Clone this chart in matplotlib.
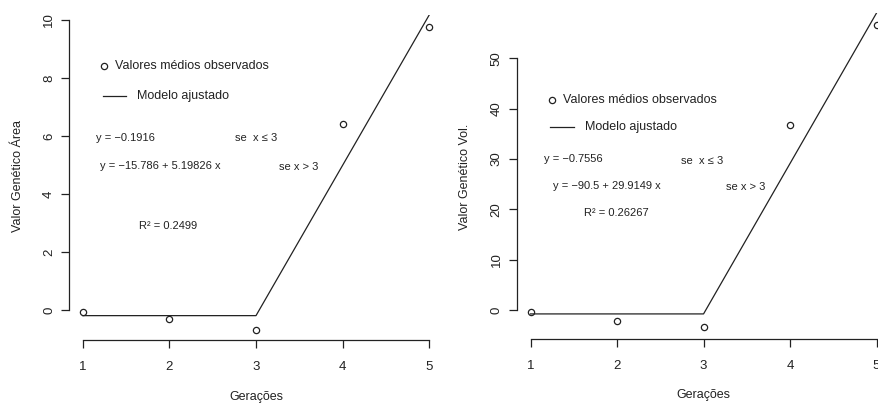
import matplotlib
matplotlib.use("Agg")
import matplotlib.pyplot as plt

plt.rcParams['font.family'] = ['Liberation Sans', 'DejaVu Sans']

# data
geracoes = [1, 2, 3, 4, 5]
area_obs = [-0.07, -0.3, -0.67, 6.4, 9.77]
vol_obs = [-0.4, -2.1, -3.3, 36.8, 56.7]

# fitted piecewise model (vertices)
fit_x = [1, 3, 5]
area_fit = [-0.19, -0.19, 10.17]
vol_fit = [-0.76, -0.76, 59.0]

area_ticks = [0, 2, 4, 6, 8, 10]
vol_ticks = [0, 10, 20, 30, 40, 50]

W, H = 879, 405
fig = plt.figure(figsize=(W / 100, H / 100), dpi=100)
fig.patch.set_facecolor('white')

def px_axes(left, right, top, bottom):
    return fig.add_axes([left / W, (H - bottom) / H, (right - left) / W, (bottom - top) / H])

def style_axes(ax, ylim, yticks):
    ax.set_xlim(0.84, 5.16)
    ax.set_ylim(*ylim)
    ax.set_facecolor('none')
    for s in ['top', 'right']:
        ax.spines[s].set_visible(False)
    ax.spines['left'].set_bounds(yticks[0], yticks[-1])
    ax.spines['bottom'].set_bounds(1, 5)
    for s in ['left', 'bottom']:
        ax.spines[s].set_linewidth(0.9)
        ax.spines[s].set_color('#222222')
    ax.set_xticks(geracoes)
    ax.set_yticks(yticks)
    ax.tick_params(axis='both', length=6, width=0.9, color='#222222', labelsize=9.5,
                   labelcolor='#222222')
    ax.tick_params(axis='x', pad=9)
    ax.tick_params(axis='y', pad=4)
    for lab in ax.get_yticklabels():
        lab.set_rotation(90)
        lab.set_va('center')

def draw_panel(ax, obs, fit, ylim, yticks, leg_pos, txt):
    ax.plot(fit_x, fit, color='#222222', lw=0.9)
    ax.plot(geracoes, obs, 'o', mfc='none', mec='#222222', ms=4.5, mew=0.9)
    style_axes(ax, ylim, yticks)
    # legend drawn in data coords like in R
    (mx, my), (lx0, lx1, ly) = leg_pos
    ax.plot([mx], [my], 'o', mfc='none', mec='#222222', ms=4.5, mew=0.9)
    ax.text(mx + 0.12, my, 'Valores médios observados', fontsize=9, va='center', color='#222222')
    ax.plot([lx0, lx1], [ly, ly], color='#222222', lw=0.9)
    ax.text(lx1 + 0.13, ly, 'Modelo ajustado', fontsize=9, va='center', color='#222222')
    for x, y, s in txt:
        ax.text(x, y, s, fontsize=8, va='center', color='#222222')

ax1 = px_axes(69, 443, 14.5, 340)
draw_panel(ax1, area_obs, area_fit, (-1.03, 10.19), area_ticks,
           ((1.25, 8.42), (1.23, 1.5, 7.39)),
           [(1.15, 5.95, 'y = −0.1916'),
            (2.76, 5.93, 'se  x ≤ 3'),
            (1.2, 4.98, 'y = −15.786 + 5.19826 x'),
            (3.26, 4.94, 'se x > 3'),
            (1.65, 2.9, 'R² = 0.2499')])

ax2 = px_axes(516.7, 890.4, 12.7, 339.3)
draw_panel(ax2, vol_obs, vol_fit, (-5.8, 59.05), vol_ticks,
           ((1.25, 41.7), (1.23, 1.5, 36.4)),
           [(1.15, 29.95, 'y = −0.7556'),
            (2.74, 29.6, 'se  x ≤ 3'),
            (1.26, 24.6, 'y = −90.5 + 29.9149 x'),
            (3.26, 24.5, 'se x > 3'),
            (1.62, 19.2, 'R² = 0.26267')])

# axis titles
fig.text(256 / W, 1 - 397 / H, 'Gerações', ha='center', va='center', fontsize=9, color='#222222')
fig.text(703 / W, 1 - 395 / H, 'Gerações', ha='center', va='center', fontsize=9, color='#222222')
fig.text(18 / W, 1 - 176 / H, 'Valor Genético Área', ha='center', va='center', rotation=90,
         fontsize=9, color='#222222')
fig.text(465 / W, 1 - 177 / H, 'Valor Genético Vol.', ha='center', va='center', rotation=90,
         fontsize=9, color='#222222')

fig.savefig('out.png', dpi=100)
